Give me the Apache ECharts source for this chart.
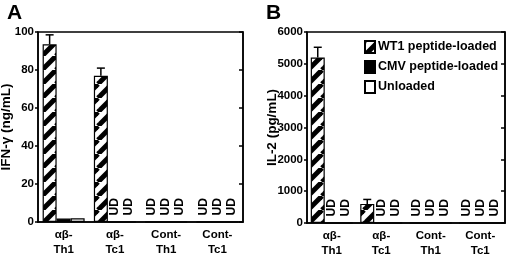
<!DOCTYPE html>
<html>
<head>
<meta charset="utf-8">
<script src="https://cdn.jsdelivr.net/npm/echarts@6/dist/echarts.min.js"></script>
<style>
  html, body { margin: 0; padding: 0; background: #fff; }
  #main { width: 520px; height: 255px; }
</style>
</head>
<body>
<div id="main"></div>
<script>
// categories shared by both panels
var categories = ['αβ-\nTh1', 'αβ-\nTc1', 'Cont-\nTh1', 'Cont-\nTc1'];

// panel A: IFN-gamma (ng/mL)
var ifnTicks = [0, 100, 20];          // min, max, step
var ifnWT1 = [93.5, 77, 'UD', 'UD'];
var ifnWT1Err = [5, 4, 0, 0];
var ifnCMV = [1.8, 'UD', 'UD', 'UD'];
var ifnUnloaded = [2, 'UD', 'UD', 'UD'];

// panel B: IL-2 (pg/mL)
var il2Ticks = [0, 6000, 1000];
var il2WT1 = [5200, 600, 'UD', 'UD'];
var il2WT1Err = [320, 140, 0, 0];
var il2CMV = ['UD', 'UD', 'UD', 'UD'];
var il2Unloaded = ['UD', 'UD', 'UD', 'UD'];

var seriesNames = ['WT1 peptide-loaded', 'CMV peptide-loaded', 'Unloaded'];

var FONT = 'Liberation Sans, Arial, Helvetica, sans-serif';
var BAR_W = 14;

// diagonal hatch pattern
function makeHatch() {
    var s = 14;
    var c = document.createElement('canvas');
    c.width = s; c.height = s;
    var ctx = c.getContext('2d');
    ctx.fillStyle = '#fff';
    ctx.fillRect(0, 0, s, s);
    ctx.strokeStyle = '#000';
    ctx.lineWidth = 5;
    [-s, 0, s].forEach(function (k) {
        ctx.beginPath();
        ctx.moveTo(k, s);
        ctx.lineTo(k + s, 0);
        ctx.stroke();
    });
    return c;
}
var hatch = { image: makeHatch(), repeat: 'repeat' };

var udLabel = {
    show: true, formatter: 'UD', position: 'top', distance: 6,
    rotate: 90, align: 'left', verticalAlign: 'middle',
    fontSize: 12, fontWeight: 'bold', fontFamily: FONT, color: '#000'
};

function barData(vals) {
    return vals.map(function (v) {
        if (v === 'UD') return { value: 0, label: udLabel };
        return v;
    });
}

function errData(vals, errs) {
    var out = [];
    vals.forEach(function (v, i) {
        if (v !== 'UD' && errs[i] > 0) out.push([i, v, errs[i]]);
    });
    return out;
}

// error bar sits on the first (WT1) bar of each group
function renderErr(params, api) {
    var i = api.value(0), v = api.value(1), e = api.value(2);
    var p0 = api.coord([i, v]);
    var p1 = api.coord([i, v + e]);
    var x = p0[0] - BAR_W;
    var st = { stroke: '#000', lineWidth: 1.5 };
    return {
        type: 'group',
        children: [
            { type: 'line', shape: { x1: x, y1: p0[1], x2: x, y2: p1[1] }, style: st },
            { type: 'line', shape: { x1: x - 4, y1: p1[1], x2: x + 4, y2: p1[1] }, style: st }
        ]
    };
}

function xAxis(grid) {
    return {
        type: 'category', gridIndex: grid, data: categories,
        axisLine: { lineStyle: { color: '#000', width: 1.5 } },
        axisTick: { show: false },
        axisLabel: { color: '#000', fontSize: 11.5, fontWeight: 'bold', fontFamily: FONT, margin: 5, lineHeight: 15 }
    };
}

function yAxes(grid, ticks, name, gap) {
    return [{
        type: 'value', gridIndex: grid, min: ticks[0], max: ticks[1], interval: ticks[2],
        name: name, nameLocation: 'middle', nameGap: gap, nameMoveOverlap: false,
        nameTextStyle: { color: '#000', fontSize: 13.5, fontWeight: 'bold', fontFamily: FONT },
        axisLine: { show: true, lineStyle: { color: '#000', width: 1.5 } },
        axisTick: { show: true, length: 3, lineStyle: { color: '#000', width: 1.5 } },
        axisLabel: {
            color: '#000', fontSize: 11.5, fontWeight: 'bold', fontFamily: FONT, margin: 4,
            formatter: function (v) { return String(v); }
        },
        splitLine: { show: false }
    }, {
        type: 'value', gridIndex: grid, position: 'right', min: ticks[0], max: ticks[1], interval: ticks[2],
        axisLine: { show: true, lineStyle: { color: '#000', width: 1.5 } },
        axisTick: { show: true, inside: true, length: 4, lineStyle: { color: '#000', width: 1.5 } },
        axisLabel: { show: false },
        splitLine: { show: false }
    }];
}

function panelSeries(xi, yi, wt1, wt1Err, cmv, unl) {
    var common = {
        type: 'bar', xAxisIndex: xi, yAxisIndex: yi, barWidth: BAR_W, barGap: '0%',
        animation: false
    };
    return [
        Object.assign({}, common, {
            name: seriesNames[0], data: barData(wt1),
            itemStyle: { color: hatch, borderColor: '#000', borderWidth: 1.2 }
        }),
        Object.assign({}, common, {
            name: seriesNames[1], data: barData(cmv),
            itemStyle: { color: '#000', borderColor: '#000', borderWidth: 1.2 }
        }),
        Object.assign({}, common, {
            name: seriesNames[2], data: barData(unl),
            itemStyle: { color: '#fff', borderColor: '#000', borderWidth: 1.2 }
        }),
        {
            type: 'custom', xAxisIndex: xi, yAxisIndex: yi, z: 5, animation: false,
            renderItem: renderErr, data: errData(wt1, wt1Err)
        }
    ];
}

var chart = echarts.init(document.getElementById('main'), null, { renderer: 'canvas' });

var option = {
    backgroundColor: '#fff',
    animation: false,
    title: [
        { text: 'A', left: 2, top: -2, textStyle: { fontSize: 21, fontWeight: 'bold', fontFamily: FONT, color: '#000' } },
        { text: 'B', left: 261, top: -2, textStyle: { fontSize: 21, fontWeight: 'bold', fontFamily: FONT, color: '#000' } }
    ],
    grid: [
        { left: 38, right: 277, top: 32, bottom: 33, outerBoundsMode: 'none', containLabel: false,
          show: true, borderColor: '#000', borderWidth: 1.5 },
        { left: 307, right: 15, top: 32, bottom: 32, outerBoundsMode: 'none', containLabel: false,
          show: true, borderColor: '#000', borderWidth: 1.5 }
    ],
    legend: {
        data: seriesNames, orient: 'vertical', left: 364, top: 40, padding: 0,
        itemWidth: 10, itemHeight: 12, itemGap: 6, selectedMode: false, icon: 'rect',
        textStyle: { color: '#000', fontSize: 12.5, fontWeight: 'bold', fontFamily: FONT, padding: [0, 0, 0, -2] }
    },
    xAxis: [xAxis(0), xAxis(1)],
    yAxis: yAxes(0, ifnTicks, 'IFN-γ (ng/mL)', 25).concat(yAxes(1, il2Ticks, 'IL-2 (pg/mL)', 27.5)),
    series: panelSeries(0, 0, ifnWT1, ifnWT1Err, ifnCMV, ifnUnloaded)
        .concat(panelSeries(1, 2, il2WT1, il2WT1Err, il2CMV, il2Unloaded))
};

chart.setOption(option);
</script>
</body>
</html>
